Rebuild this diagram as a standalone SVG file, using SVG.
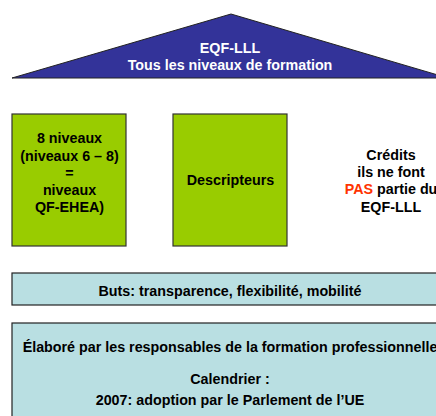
<svg xmlns="http://www.w3.org/2000/svg" width="436" height="416" viewBox="0 0 436 416">
<style>
text{font-family:"Liberation Sans",Arial,sans-serif;font-weight:bold;font-size:14.3px;text-anchor:middle;fill:#000}
.w{fill:#fff}
.g{fill:#99CC00;stroke:#333;stroke-width:1.2}
.b{fill:#B9DFE2;stroke:#222;stroke-width:1.2}
.r{fill:#FF3300}
</style>
<rect width="436" height="416" fill="#fff"/>
<g id="eqf">
<polygon points="231,14 12,78 448,78" fill="#333399" stroke="#222" stroke-width="1"/>
<text class="w" x="230" y="53">EQF-LLL</text>
<text class="w" x="230" y="70">Tous les niveaux de formation</text>
</g>
<g id="niveaux">
<rect class="g" x="12" y="114" width="114" height="132"/>
<text x="69.5" y="143">8 niveaux</text>
<text x="69.5" y="161">(niveaux 6 – 8)</text>
<text x="69.5" y="178">=</text>
<text x="69.5" y="195">niveaux</text>
<text x="69.5" y="212">QF-EHEA)</text>
</g>
<g id="descripteurs">
<rect class="g" x="173" y="114" width="114" height="132"/>
<text x="230.5" y="185">Descripteurs</text>
</g>
<g id="credits">
<text x="391" y="160">Crédits</text>
<text x="391" y="177">ils ne font</text>
<text x="391" y="194"><tspan class="r">PAS</tspan> partie du</text>
<text x="391" y="212">EQF-LLL</text>
</g>
<g id="buts">
<rect class="b" x="12" y="273" width="436" height="32"/>
<text x="230" y="296">Buts: transparence, flexibilité, mobilité</text>
</g>
<g id="elabore">
<rect class="b" x="12" y="323" width="436" height="100"/>
<text x="230" y="352">Élaboré par les responsables de la formation professionnelle</text>
<text x="230" y="384">Calendrier :</text>
<text x="230" y="405">2007: adoption par le Parlement de l’UE</text>
</g>
<g id="connectors"></g>
</svg>
